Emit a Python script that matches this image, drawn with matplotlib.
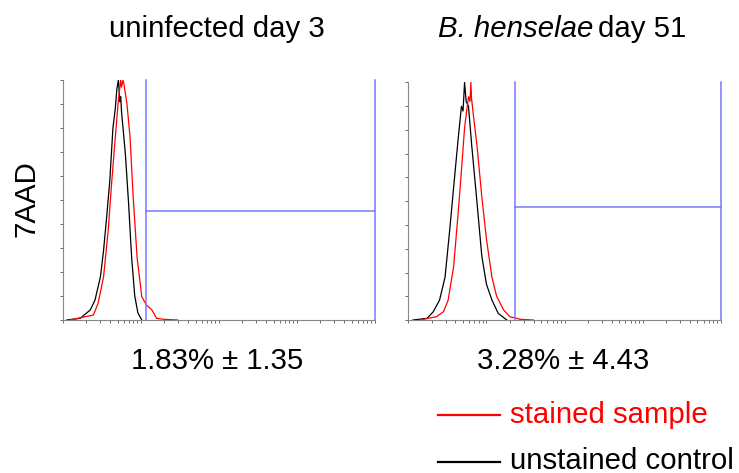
import numpy as np
import matplotlib
matplotlib.use('Agg')
import matplotlib.pyplot as plt
from matplotlib.lines import Line2D
from matplotlib.ticker import LogLocator, NullFormatter

plt.rcParams['font.family'] = ['Liberation Sans', 'DejaVu Sans']

# histogram traces: x in log10 fluorescence units, y in % of max count
left_unstained_log = [0.05, 0.22, 0.35, 0.41, 0.48, 0.52, 0.56, 0.60, 0.64, 0.67, 0.69,
                      0.71, 0.73, 0.74, 0.75, 0.80, 0.84, 0.88, 0.92, 0.96, 1.01]
left_unstained_cnt = [0, 0.7, 4.2, 8.3, 18, 29, 43, 58, 80, 88, 96,
                      100, 91, 93, 87, 69, 49, 26, 10, 3, 0]
left_stained_log = [0.09, 0.39, 0.45, 0.52, 0.58, 0.62, 0.67, 0.71, 0.74, 0.75, 0.77,
                    0.78, 0.82, 0.86, 0.90, 0.95, 1.01, 1.07, 1.14, 1.20, 1.29, 1.47]
left_stained_cnt = [0, 2.1, 7, 18, 37.5, 55.6, 76, 91.7, 100, 97, 100,
                    98.6, 90, 76, 51, 26, 9.7, 6.2, 4.2, 0.7, 0.3, 0]

right_unstained_log = [0.06, 0.24, 0.32, 0.40, 0.47, 0.53, 0.60, 0.64, 0.68, 0.70, 0.72,
                       0.74, 0.77, 0.81, 0.88, 0.94, 1.00, 1.07, 1.15, 1.26]
right_unstained_cnt = [0, 0.7, 3.5, 8.4, 18, 38, 63, 77, 90, 88, 100,
                       92, 90, 74, 49, 27, 15, 8.4, 2.8, 0]
right_stained_log = [0.15, 0.36, 0.45, 0.51, 0.58, 0.64, 0.68, 0.72, 0.77, 0.79, 0.80,
                     0.81, 0.83, 0.88, 0.94, 1.00, 1.07, 1.13, 1.22, 1.30, 1.43, 1.60]
right_stained_cnt = [0, 1.4, 3.5, 8.4, 22.5, 46, 63, 81, 94, 92, 100,
                     93, 87, 73, 52, 34, 18, 10, 4.2, 1.4, 0.3, 0]

# gate: left edge (log10), right edge (log10), marker height (%)
gates = [(1.07, 4.0, 45.5), (1.37, 4.0, 47.5)]
titles = ['uninfected day 3', 'day 51']
percent_labels = ['1.83% \u00b1 1.35', '3.28% \u00b1 4.43']

STAINED = '#ff0000'
UNSTAINED = '#000000'
GATE = '#7878ff'
W, H = 739, 473
FS = 21.2

fig = plt.figure(figsize=(W / 100, H / 100), dpi=100)

panels = [
    ((63, 320, 312, 240), left_unstained_log, left_unstained_cnt, left_stained_log, left_stained_cnt),
    ((408.3, 320, 312.7, 237.5), right_unstained_log, right_unstained_cnt, right_stained_log, right_stained_cnt),
]

for i, ((px, pb, pw, ph), ux, uy, sx, sy) in enumerate(panels):
    ax = fig.add_axes([px / W, 1 - pb / H, pw / W, ph / H])
    ax.plot(10 ** np.array(ux), uy, color=UNSTAINED, lw=0.9)
    ax.plot(10 ** np.array(sx), sy, color=STAINED, lw=0.9)

    g0, g1, gh = gates[i]
    ax.plot([10 ** g0, 10 ** g0], [0, 100], color=GATE, lw=1.1, clip_on=False)
    ax.plot([10 ** g1, 10 ** g1], [0, 100], color=GATE, lw=1.1, clip_on=False)
    ax.plot([10 ** g0, 10 ** g1], [gh, gh], color=GATE, lw=1.1, clip_on=False)

    ax.set_xscale('log')
    ax.set_xlim(1, 1e4)
    ax.set_ylim(0, 100)
    ax.xaxis.set_minor_locator(LogLocator(base=10, subs=np.arange(2, 10)))
    ax.xaxis.set_minor_formatter(NullFormatter())
    ax.set_xticklabels([])
    ax.set_yticks(np.arange(0, 101, 10))
    ax.set_yticklabels([])
    ax.tick_params(axis='both', which='both', direction='out', length=2,
                   width=0.6, color='#555555')
    for s in ['top', 'right']:
        ax.spines[s].set_visible(False)
    for s in ['left', 'bottom']:
        ax.spines[s].set_color('#888888')
        ax.spines[s].set_linewidth(0.8)

# titles
fig.text(217 / W, 1 - 36.7 / H, titles[0], ha='center', va='baseline', fontsize=FS)
fig.text(593.5 / W, 1 - 36.7 / H, 'B. henselae', ha='right', va='baseline',
         fontsize=FS, style='italic')
fig.text(598.5 / W, 1 - 36.7 / H, titles[1], ha='left', va='baseline', fontsize=FS)

# y label
fig.text(26.7 / W, 1 - 199 / H, '7AAD', rotation=90, ha='center', va='center', fontsize=FS)

# gated percentages
fig.text(217.5 / W, 1 - 369.3 / H, percent_labels[0], ha='center', va='baseline', fontsize=FS)
fig.text(563.3 / W, 1 - 369.3 / H, percent_labels[1], ha='center', va='baseline', fontsize=FS)

# legend
for yl, yb, col, lab in [(415, 423.3, STAINED, 'stained sample'),
                         (461.7, 468.5, UNSTAINED, 'unstained control')]:
    fig.add_artist(Line2D([438.3 / W, 500 / W], [1 - yl / H, 1 - yl / H], color=col, lw=1.6))
    fig.text(510 / W, 1 - yb / H, lab, ha='left', va='baseline', fontsize=FS, color=col)

fig.savefig('out.png', dpi=100)
